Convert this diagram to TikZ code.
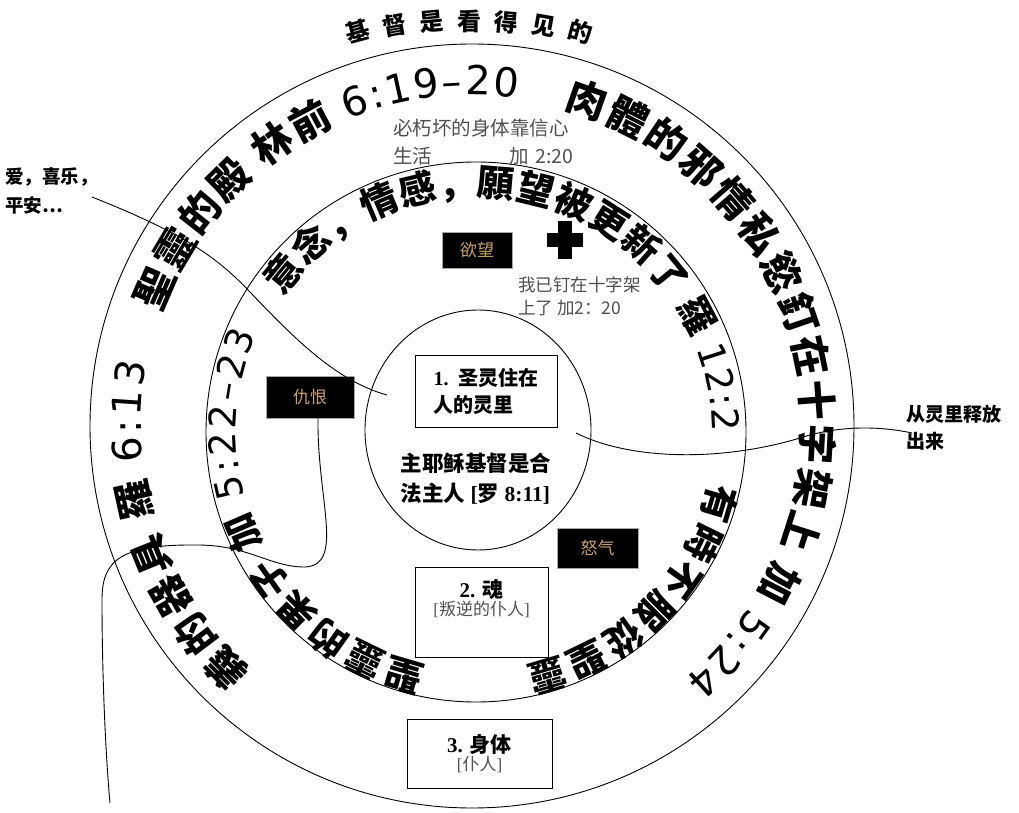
\documentclass[tikz,border=0pt]{standalone}
\usepackage{fontspec}
\setmainfont{Liberation Serif}
\newfontfamily\cjk{Noto Sans CJK SC}
\newfontfamily\digs{DejaVu Sans}
\usetikzlibrary{decorations.text,shapes.geometric}
\definecolor{gold}{HTML}{C9A06A}
\definecolor{graytxt}{HTML}{505050}
\newcommand\arcB{\cjk\bfseries\fontsize{40}{40}\selectfont}
\newcommand\arcR{\digs\mdseries\fontsize{40}{40}\selectfont}
\newcommand\arcBm{\cjk\bfseries\fontsize{37}{37}\selectfont}
\newcommand\arcRm{\digs\mdseries\fontsize{37}{37}\selectfont}
\tikzset{
  ring/.style={draw, line width=0.9pt, inner sep=0pt},
  wire/.style={draw, line width=0.9pt},
  whitebox/.style={draw, line width=0.8pt, inner sep=0pt},
  blackbox/.style={draw=gray!70, fill=black, text=gold, line width=0.6pt, inner sep=0pt,
    font=\cjk\fontsize{17}{17}\selectfont},
  arctext/.style={decorate, decoration={text along path, text align={fit to path}, text={#1}}},
}
\begin{document}
\begin{tikzpicture}[x=1pt,y=1pt]
\useasboundingbox (0,0) rectangle (1019,812);

% circles
\node[ring, circle, minimum size=764pt] (outer) at (472,386) {};
\node[ring, circle, minimum size=540pt] (middle) at (476,380) {};
\node[ring, ellipse, minimum width=226pt, minimum height=240pt] (inner) at (478,382) {};

% title
\foreach \c [count=\i from 0] in {基,督,是,看,得,见,的} {
  \pgfmathsetmacro\a{100.8-3.6*\i}
  \node[font=\cjk\bfseries\fontsize{24}{24}\selectfont, rotate=1.4*(\a-90), inner sep=0pt] (t\i) at ([shift={(469,195)}]\a:596) {\c};
}

% outer ring texts
\path[arctext={|\arcB|聖靈的殿 林前 |\arcR|6:19–20}] ([shift={(472,386)}]160:331) arc[start angle=160, end angle=82, radius=331];
\path[arctext={|\arcB|肉體的邪情私慾釘在十字架上 加 |\arcR|5:24}] ([shift={(472,386)}]74:331) arc[start angle=74, end angle=-50, radius=331];
\path[arctext={|\arcB|義的器具 羅 |\arcR|6:13}] ([shift={(472,386)}]228:331) arc[start angle=228, end angle=169, radius=331];

% middle ring texts
\path[arctext={|\arcBm|意念，情感，願望被更新了 羅 |\arcRm|12:2}] ([shift={(476,380)}]145:236) arc[start angle=145, end angle=0, radius=236];
\path[arctext={|\arcBm|有時不服從聖靈}] ([shift={(476,380)}]-12:240) arc[start angle=-12, end angle=-78, radius=240];
\path[arctext={|\arcBm|聖靈的果子 加 |\arcRm|5:22–23}] ([shift={(476,380)}]258:240) arc[start angle=258, end angle=156, radius=240];

% side labels
\node[anchor=north west, align=left, inner sep=0pt, font=\cjk\bfseries\fontsize{18.5}{29}\selectfont] (love) at (5,645) {爱，喜乐，\\平安…};
\node[anchor=north west, align=left, inner sep=0pt, font=\cjk\bfseries\fontsize{19}{27}\selectfont] (free) at (906,407) {从灵里释放\\出来};

% gray notes
\node[anchor=north west, align=left, inner sep=0pt, text width=180pt, text=graytxt, font=\cjk\fontsize{19.5}{28}\selectfont] (note1) at (393,693) {必朽坏的身体靠信心\\生活\hfill 加 2:20};
\node[anchor=north west, align=left, inner sep=0pt, text=graytxt, font=\cjk\fontsize{17.5}{23}\selectfont] (note2) at (518,536) {我已钉在十字架\\上了 加2：20};

% boxes
\node[whitebox, minimum width=142pt, minimum height=72pt, align=left, font=\bfseries\fontsize{20}{27}\selectfont] (b1) at (486,421) {1.\ \ {\cjk 圣灵住在}\\{\cjk 人的灵里}};
\node[align=left, inner sep=0pt, font=\bfseries\fontsize{21.5}{30}\selectfont] (lord) at (476,333) {{\cjk 主耶稣基督是合}\\{\cjk 法主人} [{\cjk 罗} 8:11]};
\node[whitebox, minimum width=133pt, minimum height=90pt] (b2) at (481.5,200) {};
\node[align=center, inner sep=0pt, anchor=north] (b2t) at ([yshift=-13pt]b2.north) {{\bfseries\fontsize{21}{27}\selectfont 2. {\cjk 魂}}\\{\color{graytxt}\fontsize{17}{20}\selectfont [{\cjk 叛逆的仆人}]}};
\node[whitebox, minimum width=145pt, minimum height=69pt, align=center] (b3) at (479.5,58.5) {{\bfseries\fontsize{21}{27}\selectfont 3. {\cjk 身体}}\\{\color{graytxt}\fontsize{17}{20}\selectfont [{\cjk 仆人}]}};

% black boxes
\node[blackbox, minimum width=70pt, minimum height=36pt] (desire) at (477,562) {欲望};
\node[blackbox, minimum width=88pt, minimum height=42pt] (hate) at (310,415) {仇恨};
\node[blackbox, minimum width=81pt, minimum height=40pt] (anger) at (597.5,264) {怒气};

% cross
\fill (558,553) rectangle (572,591);
\fill (547,565) rectangle (583,579);

% connectors
\coordinate (c1s) at (92,615);
\coordinate (c1e) at (387,417);
\path[wire] (c1s) .. controls (180,580) and (215,557) .. (250,520) .. controls (300,467) and (340,430) .. (c1e);

\coordinate (c2s) at (576,379);
\coordinate (c2e) at (912,379);
\path[wire] (c2s) .. controls (630,352) and (720,350) .. (800,374) .. controls (830,384) and (870,388) .. (c2e);

\coordinate (c3e) at (110,9);
\path[wire] ([xshift=8pt]hate.south) .. controls (317,312) and (345,247) .. (305,245) .. controls (270,245) and (250,266) .. (200,267) .. controls (120,268) and (102,252) .. (102,212) .. controls (102,132) and (106,52) .. (c3e);
\end{tikzpicture}
\end{document}
